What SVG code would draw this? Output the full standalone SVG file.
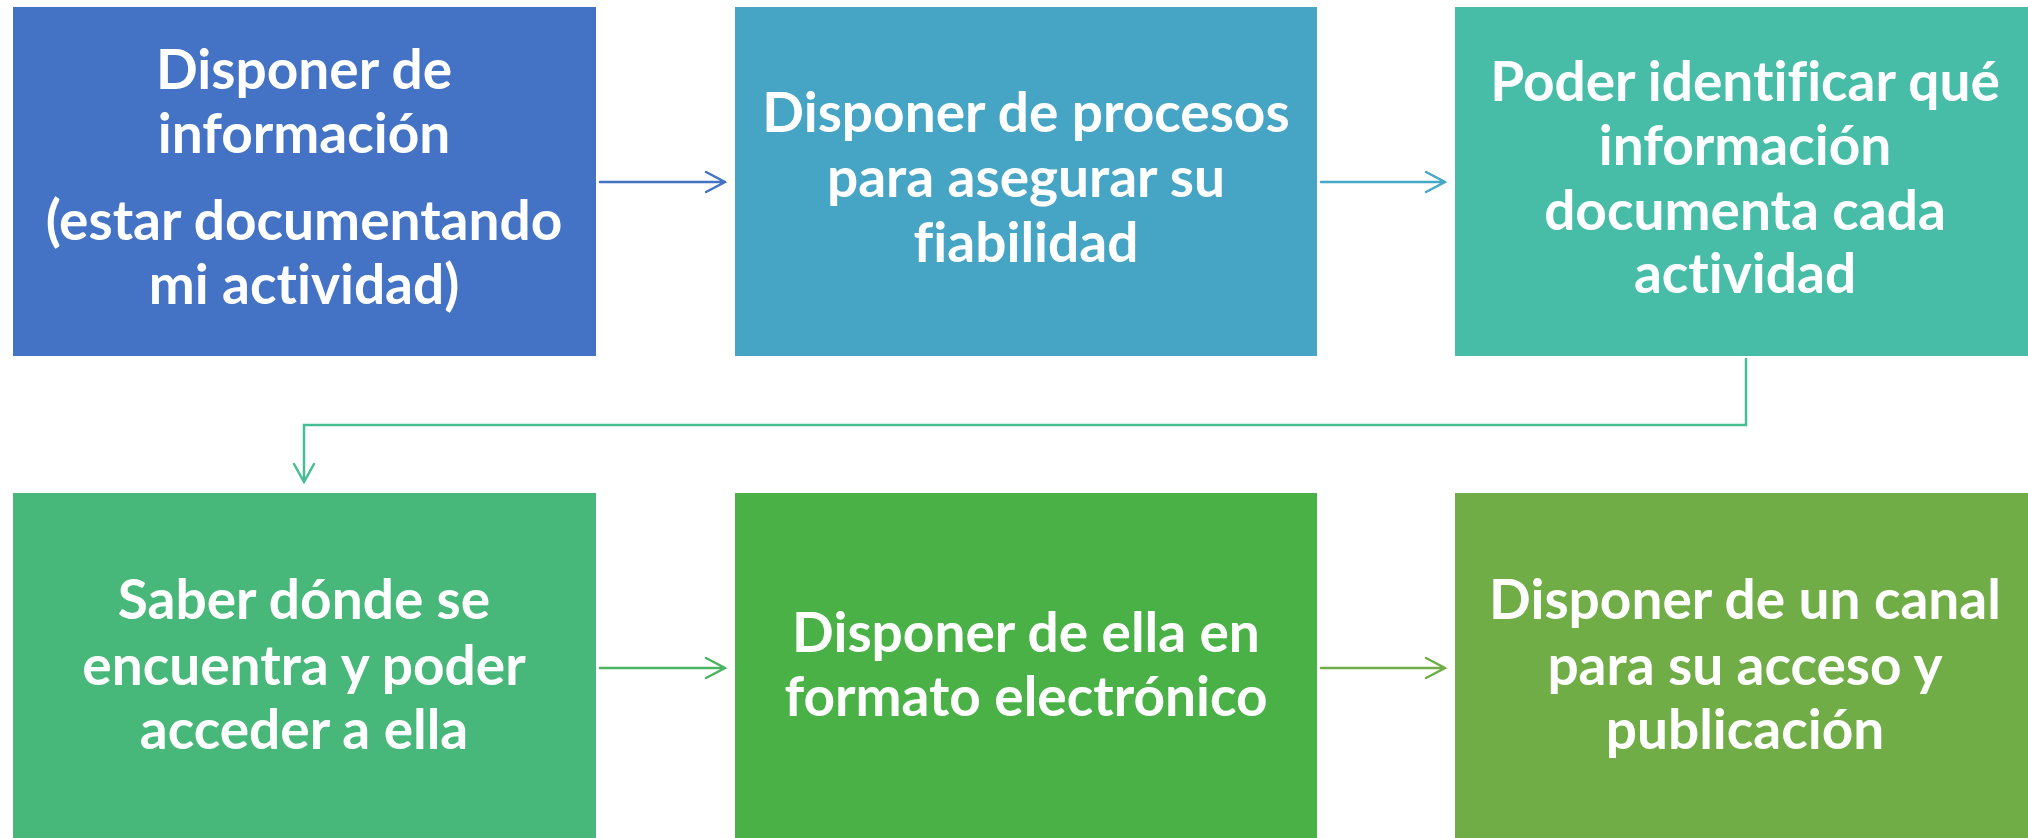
<svg xmlns="http://www.w3.org/2000/svg" width="2028" height="838" viewBox="0 0 2028 838">
<style>
.t{font-family:Lato,"Open Sans","Liberation Sans",sans-serif;font-weight:700;font-size:55px;fill:#fff;text-anchor:middle;font-variant-ligatures:none}
.c{fill:none;stroke-width:2.5;stroke-linecap:round;stroke-linejoin:miter}
</style>
<rect width="2028" height="838" fill="#fff"/>
<g id="n1"><rect x="13" y="7" width="583" height="349" fill="#4472C4"/>
<text class="t"><tspan x="304" y="89">Disponer de</tspan><tspan x="304" y="153">información</tspan><tspan x="304" y="240">(estar documentando</tspan><tspan x="304" y="304">mi actividad)</tspan></text></g>
<g id="n2"><rect x="735" y="7" width="582" height="349" fill="#46A4C4"/>
<text class="t"><tspan x="1026" y="132">Disponer de procesos</tspan><tspan x="1026" y="197">para asegurar su</tspan><tspan x="1026" y="262">fiabilidad</tspan></text></g>
<g id="n3"><rect x="1455" y="7" width="573" height="349" fill="#47BDA8"/>
<text class="t"><tspan x="1745" y="101">Poder identificar qué</tspan><tspan x="1745" y="165">información</tspan><tspan x="1745" y="230">documenta cada</tspan><tspan x="1745" y="293">actividad</tspan></text></g>
<g id="n4"><rect x="13" y="493" width="583" height="345" fill="#47B77A"/>
<text class="t"><tspan x="304" y="619">Saber dónde se</tspan><tspan x="304" y="685">encuentra y poder</tspan><tspan x="304" y="749">acceder a ella</tspan></text></g>
<g id="n5"><rect x="735" y="493" width="582" height="345" fill="#49B146"/>
<text class="t"><tspan x="1026" y="652">Disponer de ella en</tspan><tspan x="1026" y="716">formato electrónico</tspan></text></g>
<g id="n6"><rect x="1455" y="493" width="573" height="345" fill="#70AD47"/>
<text class="t"><tspan x="1745" y="619">Disponer de un canal</tspan><tspan x="1745" y="685">para su acceso y</tspan><tspan x="1745" y="749">publicación</tspan></text></g>
<g id="connectors">
<path class="c" stroke="#4472C4" d="M600 182H725M706 172L725 182L706 192"/>
<path class="c" stroke="#46A8C6" d="M1321 182H1445M1426 172L1445 182L1426 192"/>
<path class="c" stroke="#47BE92" d="M1746 359V425H304V482M294 464L304 482L314 464"/>
<path class="c" stroke="#4AB463" d="M600 668H725M706 658L725 668L706 678"/>
<path class="c" stroke="#70AD47" d="M1321 668H1445M1426 658L1445 668L1426 678"/>
</g>
</svg>
